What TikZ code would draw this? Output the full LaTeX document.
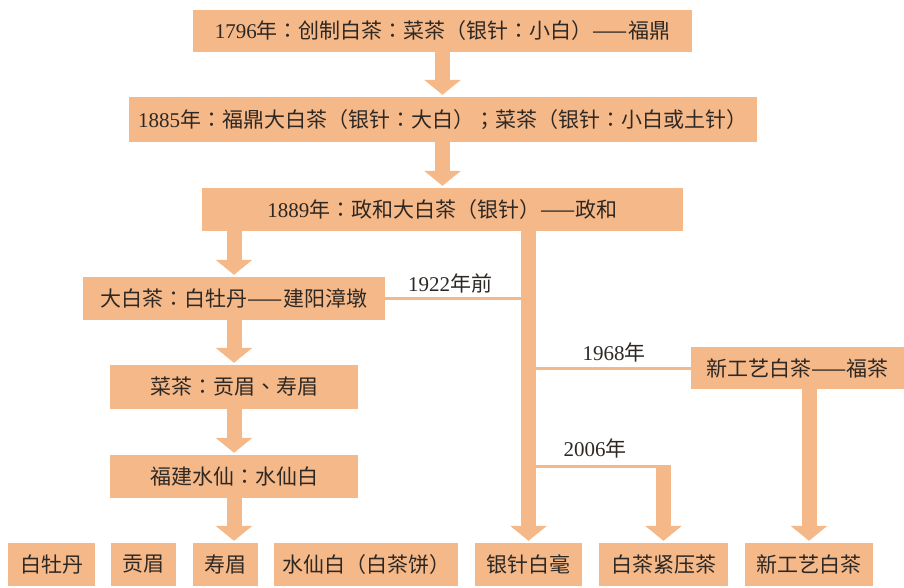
\documentclass[tikz,border=0pt]{standalone}
\usepackage{fontspec}
\setmainfont{Liberation Serif}
\newfontfamily\cjk{Noto Sans CJK TC}
\usetikzlibrary{arrows.meta}
\definecolor{tea}{RGB}{245,184,136}
\definecolor{ink}{RGB}{45,40,36}

\begin{document}
\begin{tikzpicture}[x=1pt,y=-1pt,
 box/.style={fill=tea,inner sep=0pt,text=ink,font=\fontsize{21}{25}\selectfont},
 year/.style={text=ink,inner sep=0pt,font=\fontsize{21}{25}\selectfont},
 bigarrow/.style={draw=tea,line width=15pt,-{Triangle[width=36pt,length=15pt]},shorten >=2pt},
 thinline/.style={draw=tea,line width=3pt}]
 \useasboundingbox (0,0) rectangle (904,587);

 \node[box,minimum width=499pt,minimum height=42pt](0) at (442.5,31){1796{\cjk 年：创制白茶：菜茶（银针：小白）——福鼎}};
 \node[box,minimum width=628pt,minimum height=45pt](1) at (442.5,119.5){1885{\cjk 年：福鼎大白茶（银针：大白）；菜茶（银针：小白或土针）}};
 \node[box,minimum width=481pt,minimum height=43pt](2) at (442.5,209.5){1889{\cjk 年：政和大白茶（银针）——政和}};

 \node[box,minimum width=302pt,minimum height=43pt](3) at (234,298.5){\cjk 大白茶：白牡丹——建阳漳墩};
 \node[box,minimum width=248pt,minimum height=44pt](4) at (234,387){\cjk 菜茶：贡眉、寿眉};
 \node[box,minimum width=248pt,minimum height=43pt](5) at (234,476.5){\cjk 福建水仙：水仙白};
 \node[box,minimum width=213pt,minimum height=42pt](6) at (797.5,368){\cjk 新工艺白茶——福茶};

 \node[box,minimum width=87pt,minimum height=43pt](7) at (51.5,564.5){\cjk 白牡丹};
 \node[box,minimum width=65pt,minimum height=43pt](8) at (143.5,564.5){\cjk 贡眉};
 \node[box,minimum width=65pt,minimum height=43pt](9) at (225.5,564.5){\cjk 寿眉};
 \node[box,minimum width=184pt,minimum height=43pt](10) at (366,564.5){\cjk 水仙白（白茶饼）};
 \node[box,minimum width=107pt,minimum height=43pt](11) at (528.5,564.5){\cjk 银针白毫};
 \node[box,minimum width=129pt,minimum height=43pt](12) at (663.5,564.5){\cjk 白茶紧压茶};
 \node[box,minimum width=128pt,minimum height=43pt](13) at (809,564.5){\cjk 新工艺白茶};

 \node[year](14) at (450,283){1922{\cjk 年前}};
 \node[year](15) at (614,352){1968{\cjk 年}};
 \node[year](16) at (595,448){2006{\cjk 年}};

 \coordinate (a) at (528.5,466);
 \coordinate (b) at (663.5,466);

% main line
 \draw [bigarrow] (0) -- (1);
 \draw [bigarrow] (1) -- (2);
 \draw [bigarrow] (11.north |- 2.south) -- (11.north);

 \draw [bigarrow] (3.north |- 2.south) -- (3);
 \draw [bigarrow] (3) -- (4);
 \draw [bigarrow] (4) -- (5);
 \draw [bigarrow] (5.south) -- (5.south |- 9.north);

 \draw [thinline] (3.east) -- (3.east -| 11.north);
 \draw [thinline] (6.west) -- (6.west -| 11.north);
 \draw [bigarrow] (13.north |- 6.south) -- (13.north);

 \draw [thinline] (a) -- ([xshift=7.5pt]b);
 \draw [bigarrow] ([yshift=1.5pt]b) -- (12.north);

\end{tikzpicture}
\end{document}
